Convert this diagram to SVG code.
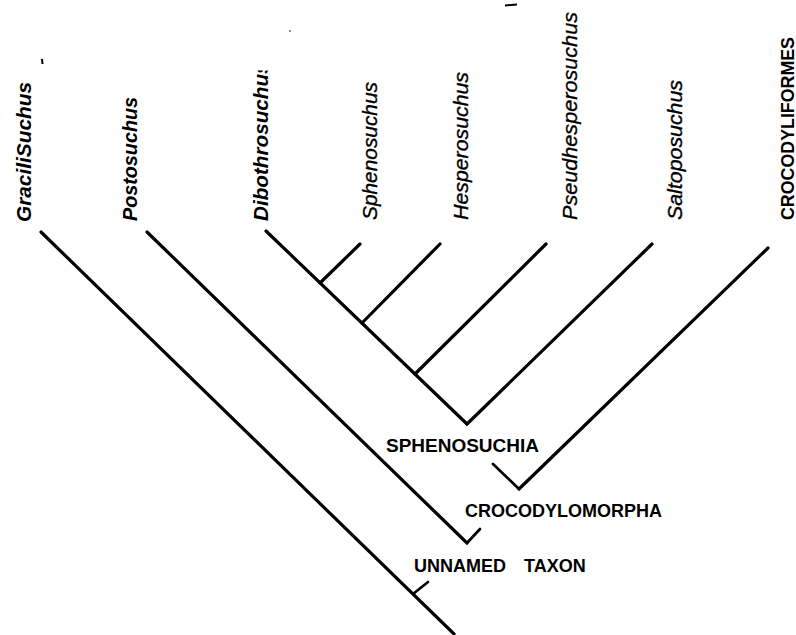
<svg xmlns="http://www.w3.org/2000/svg" width="796" height="635" viewBox="0 0 796 635">
<style>
.ln{stroke:#000;stroke-width:3.2;stroke-linecap:round;fill:none}
.thin{stroke-width:2.7}
.tx{font-family:"Liberation Sans",Arial,sans-serif;fill:#000}
.bi{font-weight:bold;font-style:italic;font-size:21px}
.it{font-style:italic;font-size:21px;stroke:#000;stroke-width:0.35}
.cl{font-weight:bold;font-size:18px}
</style>
<defs>
<clipPath id="clipDibo"><rect x="0" y="70.5" width="796" height="600"/></clipPath>
</defs>
<rect width="796" height="635" fill="#fff"/>
<g id="connectors">
<path class="ln" d="M41,232 L454,634"/>
<path class="ln thin" d="M413,594 L428,582"/>
<path class="ln" d="M147,232 L467,543"/>
<path class="ln thin" d="M467,543 L480,529"/>
<path class="ln" d="M266,231 L467,424"/>
<path class="ln" d="M467,424 L652,244"/>
<path class="ln" d="M320,283 L360,244"/>
<path class="ln" d="M362,323 L440,244"/>
<path class="ln" d="M415,374 L546,244"/>
<path class="ln" d="M768,248 L519,489"/>
<path class="ln thin" d="M493,464 L519,489"/>
</g>
<g id="node-gracilisuchus"><text class="tx bi" transform="translate(31,222) rotate(-90)" textLength="140" lengthAdjust="spacingAndGlyphs">GraciliSuchus</text></g>
<g id="node-postosuchus"><text class="tx bi" transform="translate(137,221) rotate(-90)" textLength="124" lengthAdjust="spacingAndGlyphs">Postosuchus</text></g>
<g id="node-dibothrosuchus" clip-path="url(#clipDibo)"><text class="tx bi" style="font-size:20.7px" transform="translate(268,221) rotate(-90)">Dibothrosuchus</text></g>
<g id="node-sphenosuchus"><text class="tx it" transform="translate(377,220) rotate(-90)" textLength="138" lengthAdjust="spacingAndGlyphs">Sphenosuchus</text></g>
<g id="node-hesperosuchus"><text class="tx it" transform="translate(468,220) rotate(-90)" textLength="148" lengthAdjust="spacingAndGlyphs">Hesperosuchus</text></g>
<g id="node-pseudhesperosuchus"><text class="tx it" transform="translate(577,220) rotate(-90)" textLength="208" lengthAdjust="spacingAndGlyphs">Pseudhesperosuchus</text></g>
<g id="node-saltoposuchus"><text class="tx it" transform="translate(682,220) rotate(-90)" textLength="140" lengthAdjust="spacingAndGlyphs">Saltoposuchus</text></g>
<g id="node-crocodyliformes"><text class="tx cl" transform="translate(793.5,220) rotate(-90)" textLength="183" lengthAdjust="spacingAndGlyphs">CROCODYLIFORMES</text></g>
<g id="node-sphenosuchia"><text class="tx cl" x="386" y="452" textLength="153" lengthAdjust="spacingAndGlyphs">SPHENOSUCHIA</text></g>
<g id="node-crocodylomorpha"><text class="tx cl" x="465" y="517" textLength="197" lengthAdjust="spacingAndGlyphs">CROCODYLOMORPHA</text></g>
<g id="node-unnamed-taxon"><text class="tx cl" x="414" y="572">UNNAMED <tspan dx="13">TAXON</tspan></text></g>
<g id="marks" fill="#000">
<path d="M41,59 L43,59 L43.5,64 L41.5,64 Z"/>
<circle cx="290" cy="31" r="0.8"/>
<path d="M505,4.5 L517,3.5 L517,5.5 L505,6.5 Z"/>
</g>
</svg>
